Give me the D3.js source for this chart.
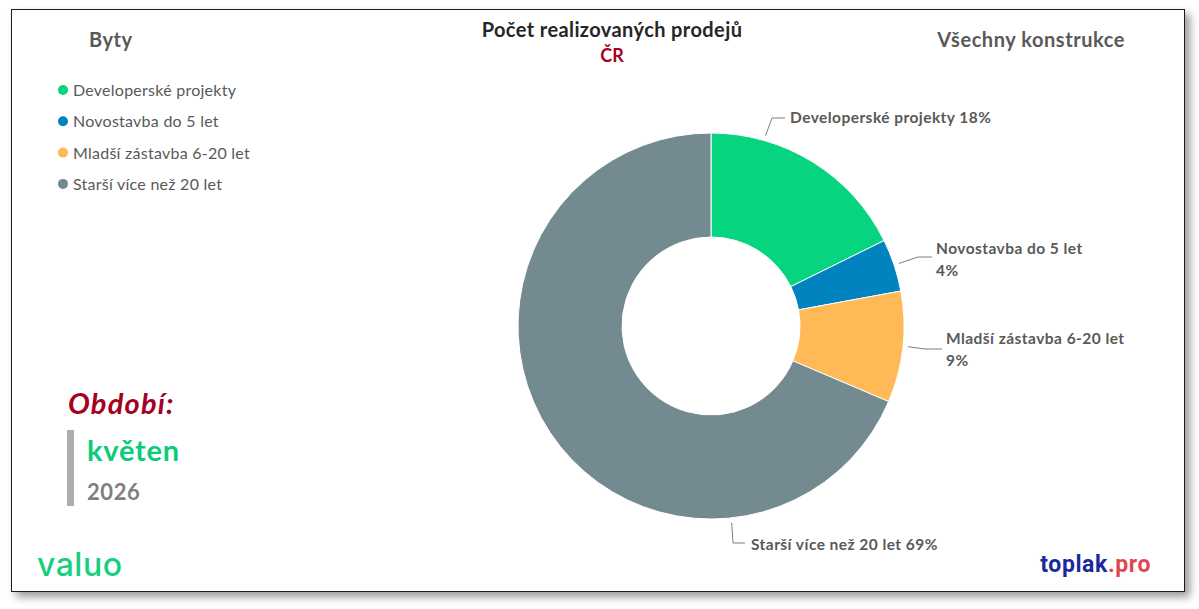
<!DOCTYPE html>
<html>
<head>
<meta charset="utf-8">
<script src="https://cdn.jsdelivr.net/npm/d3@7"></script>
<style>
  body { margin: 0; background: #fff; }
  svg { display: block; font-family: Lato, "Open Sans", sans-serif; }
</style>
</head>
<body>
<script>
// data
const categories = ["Developerské projekty", "Novostavba do 5 let", "Mladší zástavba 6-20 let", "Starší více než 20 let"];
const shares = [17.7, 4.4, 9.3, 68.6];
const labelTexts = ["18%", "4%", "9%", "69%"];
const colors = ["#06d47f", "#0083bf", "#ffb957", "#738a90"];

const W = 1199, H = 609;
const cx = 711, cy = 326, rOuter = 193, rInner = 89;

const svg = d3.select("body").append("svg")
  .attr("width", W).attr("height", H);

// frame with shadow
const defs = svg.append("defs");
const f = defs.append("filter").attr("id", "sh").attr("x", "-5%").attr("y", "-5%").attr("width", "110%").attr("height", "115%");
f.append("feDropShadow").attr("dx", 5).attr("dy", 5).attr("stdDeviation", 4).attr("flood-color", "#000").attr("flood-opacity", 0.4);

svg.append("rect")
  .attr("x", 11.5).attr("y", 9.5).attr("width", 1173).attr("height", 582)
  .attr("fill", "#fff").attr("stroke", "#1a1a1a").attr("stroke-width", 1)
  .attr("filter", "url(#sh)");

// titles
svg.append("text").attr("x", 612).attr("y", 37).attr("text-anchor", "middle")
  .attr("font-size", 20).attr("font-weight", "bold").attr("fill", "#262626")
  .attr("letter-spacing", 0.4)
  .text("Počet realizovaných prodejů");
svg.append("text").attr("x", 612).attr("y", 62).attr("text-anchor", "middle")
  .attr("font-size", 18).attr("font-weight", "bold").attr("fill", "#a50021")
  .text("ČR");
svg.append("text").attr("x", 89).attr("y", 47)
  .attr("font-size", 20).attr("font-weight", "bold").attr("fill", "#595959")
  .attr("letter-spacing", 0.5)
  .text("Byty");
svg.append("text").attr("x", 1125).attr("y", 47).attr("text-anchor", "end")
  .attr("font-size", 20).attr("font-weight", "bold").attr("fill", "#595959")
  .attr("letter-spacing", 0.55)
  .text("Všechny konstrukce");

// legend
const legend = svg.append("g").attr("transform", "translate(63,90)");
const lg = legend.selectAll("g").data(categories).enter().append("g")
  .attr("transform", (d, i) => `translate(0,${i * 31.3})`);
lg.append("circle").attr("r", 5).attr("fill", (d, i) => colors[i]);
lg.append("text").attr("x", 10).attr("y", 6)
  .attr("font-size", 16).attr("fill", "#595959").attr("letter-spacing", 0.25).text(d => d);

// donut
const pie = d3.pie().sort(null).value(d => d);
const arcs = pie(shares);
const arc = d3.arc().innerRadius(rInner).outerRadius(rOuter);
const g = svg.append("g").attr("transform", `translate(${cx},${cy})`);
g.selectAll("path").data(arcs).enter().append("path")
  .attr("d", arc).attr("fill", (d, i) => colors[i])
  .attr("stroke", "#fff").attr("stroke-width", 1);

// data labels (angle of leader start in degrees, elbow / end offsets, text position)
const labelLayout = [
  { a: 16, elbow: [61, -208], end: [74, -208], tx: 79, ty: -203, lines: 1 },
  { a: 71.6, elbow: [207, -69], end: [221, -69], tx: 225, ty: -72, lines: 2 },
  { a: 96, elbow: [214, 23], end: [231, 23], tx: 235, ty: 18, lines: 2 },
  { a: 174, elbow: [22, 217], end: [34, 217], tx: 40, ty: 224, lines: 1 }
];
const toXY = (deg, r) => [r * Math.sin(deg * Math.PI / 180), -r * Math.cos(deg * Math.PI / 180)];
const line = d3.line();
labelLayout.forEach((L, i) => {
  g.append("path")
    .attr("d", line([toXY(L.a, rOuter + 5), L.elbow, L.end]))
    .attr("fill", "none").attr("stroke", "#7f7f7f").attr("stroke-width", 1);
  const t = g.append("text").attr("x", L.tx).attr("y", L.ty)
    .attr("font-size", 15.5).attr("font-weight", "bold").attr("fill", "#595959")
    .attr("letter-spacing", 0.45);
  if (L.lines === 1) {
    t.text(`${categories[i]} ${labelTexts[i]}`);
  } else {
    t.append("tspan").attr("x", L.tx).text(categories[i]);
    t.append("tspan").attr("x", L.tx).attr("dy", 22).text(labelTexts[i]);
  }
});

// period box
svg.append("text").attr("x", 68).attr("y", 414)
  .attr("font-size", 29).attr("font-weight", "bold").attr("font-style", "italic")
  .attr("letter-spacing", 1.2)
  .attr("fill", "#a50021").text("Období:");
svg.append("rect").attr("x", 67).attr("y", 430).attr("width", 7).attr("height", 76).attr("fill", "#b1adaa");
svg.append("text").attr("x", 87).attr("y", 461)
  .attr("font-size", 29).attr("font-weight", "bold").attr("letter-spacing", 0.8)
  .attr("fill", "#0ccb7b").text("květen");
svg.append("text").attr("x", 87).attr("y", 500)
  .attr("font-size", 22).attr("font-weight", "bold").attr("letter-spacing", 0.6)
  .attr("fill", "#7f7f7f").text("2026");

// logos
svg.append("text").attr("x", 37).attr("y", 576)
  .attr("font-size", 32).attr("font-family", "Inter, Lato, sans-serif").attr("font-weight", 500)
  .attr("letter-spacing", 0.5).attr("fill", "#18cf7f").text("valuo");
const tp = svg.append("text").attr("x", 1151).attr("y", 572).attr("text-anchor", "end")
  .attr("font-size", 23).attr("font-weight", "bold").attr("font-family", "Roboto, Lato, sans-serif")
  .attr("letter-spacing", 0.6);
tp.append("tspan").attr("fill", "#1a2a9b").text("toplak");
tp.append("tspan").attr("fill", "#e0464f").text(".pro");
</script>
</body>
</html>
